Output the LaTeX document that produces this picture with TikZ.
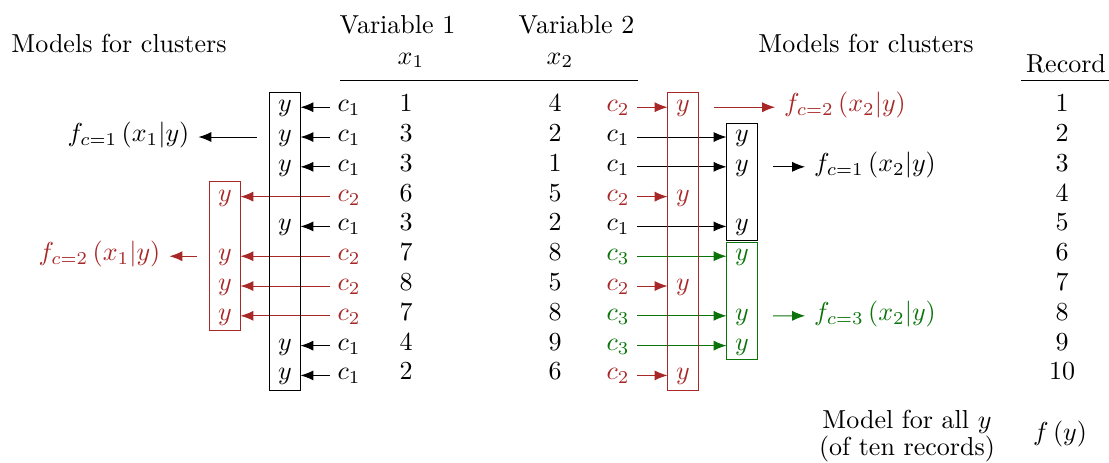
\documentclass[tikz,border=0pt]{standalone}
\usetikzlibrary{arrows.meta,fit}
\definecolor{cl1}{RGB}{0,0,0}
\definecolor{cl2}{RGB}{168,40,40}
\definecolor{cl3}{RGB}{10,115,10}

\begin{document}
\begin{tikzpicture}[x=0.01352cm, y=-0.01352cm,
  cell/.style={anchor=base, inner xsep=2.7pt, inner ysep=0pt, text height=7.3pt, text depth=3.85pt},
  yent/.style={cell, inner xsep=0pt, minimum width=11.5pt},
  grp/.style={draw, inner sep=0pt},
  arr/.style={-{Latex[length=5pt,width=3.9pt]}}]
  \useasboundingbox (0,0) rectangle (1109,462);

  % headings
  \node[anchor=base] (mleft) at (119,52) {Models for clusters};
  \node[anchor=base] (var1) at (397.5,33) {Variable 1};
  \node[anchor=base] (x1h) at (411,64) {$x_1$};
  \node[anchor=base] (var2) at (576.5,33) {Variable 2};
  \node[anchor=base] (x2h) at (560,64) {$x_2$};
  \draw (340,80.5) -- (638,80.5);
  \node[anchor=base] (mright) at (866,52) {Models for clusters};
  \node[anchor=base] (rec) at (1066,72) {Record};
  \draw (1021,80.5) -- (1109,80.5);

  % rows: record / x1 / x2 / cluster for x1 / cluster for x2
  \foreach \rw/\xa/\xb/\ka/\kb in {1/1/4/1/2, 2/3/2/1/1, 3/3/1/1/1, 4/6/5/2/2, 5/3/2/1/1,
      6/7/8/2/3, 7/8/5/2/2, 8/7/8/2/3, 9/4/9/1/3, 10/2/6/1/2} {
    \node[cell] (rec\rw) at (1062,{81.9+29.8*\rw}) {\rw};
    \node[cell] (xa\rw) at (406,{81.9+29.8*\rw}) {\xa};
    \node[cell] (xb\rw) at (555,{81.9+29.8*\rw}) {\xb};
    \node[cell, text=cl\ka] (lc\rw) at (349,{81.9+29.8*\rw}) {$c_{\ka}$};
    \node[yent, text=cl\ka] (ly\rw) at ({345-60*\ka},{81.9+29.8*\rw}) {$y$};
    \node[cell, text=cl\kb] (rc\rw) at (618,{81.9+29.8*\rw}) {$c_{\kb}$};
    \node[yent, text=cl\kb] (ry\rw) at ({742-59*(\kb==2)},{81.9+29.8*\rw}) {$y$};
    \draw[arr, color=cl\ka] (lc\rw) -- (ly\rw);
    \draw[arr, color=cl\kb] (rc\rw) -- (ry\rw);
  }

  % cluster boxes
  \node[grp, fit=(ly1)(ly10)] (lbox1) {};
  \node[grp, draw=cl2, fit=(ly4)(ly8)] (lbox2) {};
  \node[grp, draw=cl2, fit=(ry1)(ry10)] (rbox2) {};
  \node[grp, inner ysep=-0.4pt, fit=(ry2)(ry5)] (rbox1) {};
  \node[grp, draw=cl3, inner ysep=-0.4pt, fit=(ry6)(ry9)] (rbox3) {};

  % cluster models
  \node[cell, inner xsep=3.3pt] (fl1) at (128.5,141.5) {$f_{c=1}\left(x_1|y\right)$};
  \node[cell, inner xsep=3.3pt, text=cl2] (fl2) at (99.5,260.7) {$f_{c=2}\left(x_1|y\right)$};
  \node[cell, inner xsep=3.3pt, text=cl2] (fr2) at (845,111.7) {$f_{c=2}\left(x_2|y\right)$};
  \node[cell, inner xsep=3.3pt] (fr1) at (875,171.3) {$f_{c=1}\left(x_2|y\right)$};
  \node[cell, inner xsep=3.3pt, text=cl3] (fr3) at (875,320.3) {$f_{c=3}\left(x_2|y\right)$};
  \draw[arr, shorten <=5pt] (ly2) -- (fl1);
  \draw[arr, cl2, shorten <=5pt] (ly6) -- (fl2);
  \draw[arr, cl2, shorten <=6pt] (ry1) -- (fr2);
  \draw[arr, shorten <=6pt] (ry3) -- (fr1);
  \draw[arr, cl3, shorten <=6pt] (ry8) -- (fr3);

  % model for all records
  \node[align=center] (mall) at (907,436) {Model for all $y$\\[-1.5pt](of ten records)};
  \node[anchor=base] (fall) at (1060,440) {$f\left(y\right)$};
\end{tikzpicture}
\end{document}
